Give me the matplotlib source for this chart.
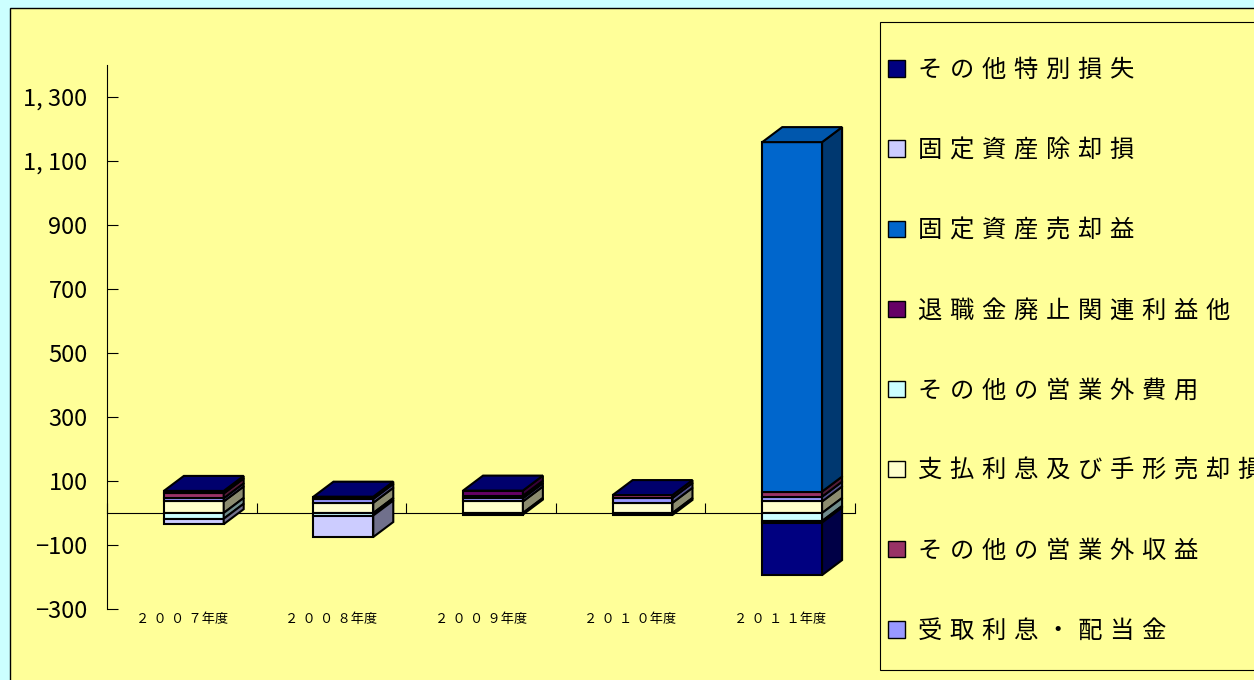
import numpy as np
import matplotlib
matplotlib.use('Agg')
import matplotlib.pyplot as plt
import matplotlib.colors as mcolors
from matplotlib.patches import Rectangle, Polygon, Patch
from matplotlib.ticker import FuncFormatter
from matplotlib.font_manager import FontProperties

plt.rcParams['font.family'] = ['Noto Sans CJK JP', 'DejaVu Sans']

years = ['２００７年度', '２００８年度', '２００９年度', '２０１０年度', '２０１１年度']

# legend order, top to bottom
series = ['その他特別損失', '固定資産除却損', '固定資産売却益', '退職金廃止関連利益他',
          'その他の営業外費用', '支払利息及び手形売却損', 'その他の営業外収益', '受取利息・配当金']
colors = ['#000080', '#CCCCFF', '#0066CC', '#660066',
          '#CCFFFF', '#FFFFCC', '#993366', '#9999FF']

other_special_loss = [0, 0, 0, 0, -164]
asset_disposal_loss = [-17, -67, 0, 0, -5]
asset_sale_gain = [0, 0, 0, 0, 1092]
retirement_gain = [8, 0, 16, 0, 0]
other_expense = [-18, -8, -5, -6, -25]
interest_paid = [36, 32, 36, 32, 36]
other_income = [15, 7, 8, 9, 16]
interest_received = [10, 12, 10, 15, 15]

values = dict(zip(series, [other_special_loss, asset_disposal_loss, asset_sale_gain,
                           retirement_gain, other_expense, interest_paid,
                           other_income, interest_received]))
color_of = dict(zip(series, colors))

# order in which the pieces are stacked away from zero
stack_order = ['支払利息及び手形売却損', 'その他の営業外費用', '受取利息・配当金',
               'その他の営業外収益', '退職金廃止関連利益他', '固定資産売却益',
               '固定資産除却損', 'その他特別損失']

W, H = 1254, 680
fig = plt.figure(figsize=(W / 100, H / 100), dpi=100)
fig.patch.set_facecolor('#CCFFFF')
fig.add_artist(Rectangle((10 / W, -0.02), 1.1, 1 - 8 / H + 0.02, transform=fig.transFigure,
                         facecolor='#FFFF99', edgecolor='black', lw=1, zorder=-2))
# legend box, runs off the right edge like the original
fig.add_artist(Rectangle((880 / W, (H - 670) / H), 0.5, 648 / H, transform=fig.transFigure,
                         facecolor='#FFFF99', edgecolor='black', lw=0.8, zorder=-1))

ax = fig.add_axes([107 / W, (H - 609) / H, 748 / W, (609 - 65) / H])
ax.set_facecolor('none')
ax.set_xlim(0, 5)
ax.set_ylim(-300, 1400)

# depth of the 3d boxes, in data units
ax_w = ax.get_position().width * W
ax_h = ax.get_position().height * H
dx = 20 / ax_w * 5
dy = 15 / ax_h * 1700

bar_left = 0.38
bar_w = 0.40


def shade(c, f):
    return tuple(np.array(mcolors.to_rgb(c)) * f)


for i in range(len(years)):
    x0 = i + bar_left
    x1 = x0 + bar_w
    pos, neg = 0, 0
    top_color = None
    for name in stack_order:
        v = values[name][i]
        c = color_of[name]
        if v >= 0:
            b, t = pos, pos + v
            pos = t
            top_color = c
        else:
            b, t = neg + v, neg
            neg = b
        if v == 0:
            continue
        ax.add_patch(Rectangle((x0, b), bar_w, t - b, facecolor=c, edgecolor='black',
                               lw=1.5, zorder=3))
        ax.add_patch(Polygon([(x1, b), (x1 + dx, b + dy), (x1 + dx, t + dy), (x1, t)],
                             closed=True, facecolor=shade(c, 0.55), edgecolor='black',
                             lw=1.5, zorder=3))
    ax.add_patch(Polygon([(x0, pos), (x0 + dx, pos + dy), (x1 + dx, pos + dy), (x1, pos)],
                         closed=True, facecolor=shade(top_color, 0.85), edgecolor='black',
                         lw=1.5, zorder=3))

# axes
for s in ['top', 'right']:
    ax.spines[s].set_visible(False)
ax.spines['left'].set_linewidth(0.8)
ax.spines['bottom'].set_position(('data', 0))
ax.spines['bottom'].set_linewidth(0.8)
ax.spines['bottom'].set_zorder(1)

ax.set_yticks(np.arange(-300, 1301, 200))
ax.yaxis.set_major_formatter(FuncFormatter(
    lambda v, p: f'{v:,.0f}'.replace(',', ', ').replace('-', '\u2212')))
ax.tick_params(axis='y', direction='in', length=8, width=0.8, pad=14, labelsize=17)

ax.set_xticks(np.arange(0, 6))
ax.tick_params(axis='x', direction='in', length=7, width=0.8, labelbottom=False)

sec = ax.secondary_xaxis('bottom')
sec.spines['bottom'].set_visible(False)
sec.set_xticks(np.arange(len(years)) + 0.5,
               [' '.join(y[:4]) + y[4:] for y in years],
               fontsize=9.5, family=['DejaVu Sans', 'Noto Sans CJK JP'])
sec.tick_params(length=0, pad=3)

# legend
handles = [Patch(facecolor=c, edgecolor='black', lw=1) for c in colors]
labels = [' '.join(s) for s in series]
leg = fig.legend(handles, labels, loc='upper left', bbox_to_anchor=(888 / W, 1 - 58 / H),
                 frameon=False, handlelength=0.7, handleheight=0.65, handletextpad=0.55,
                 borderpad=0, labelspacing=2.31, borderaxespad=0,
                 prop=FontProperties(family=['DejaVu Sans', 'Noto Sans CJK JP'], size=17.5))

fig.savefig('out.png', dpi=100)
